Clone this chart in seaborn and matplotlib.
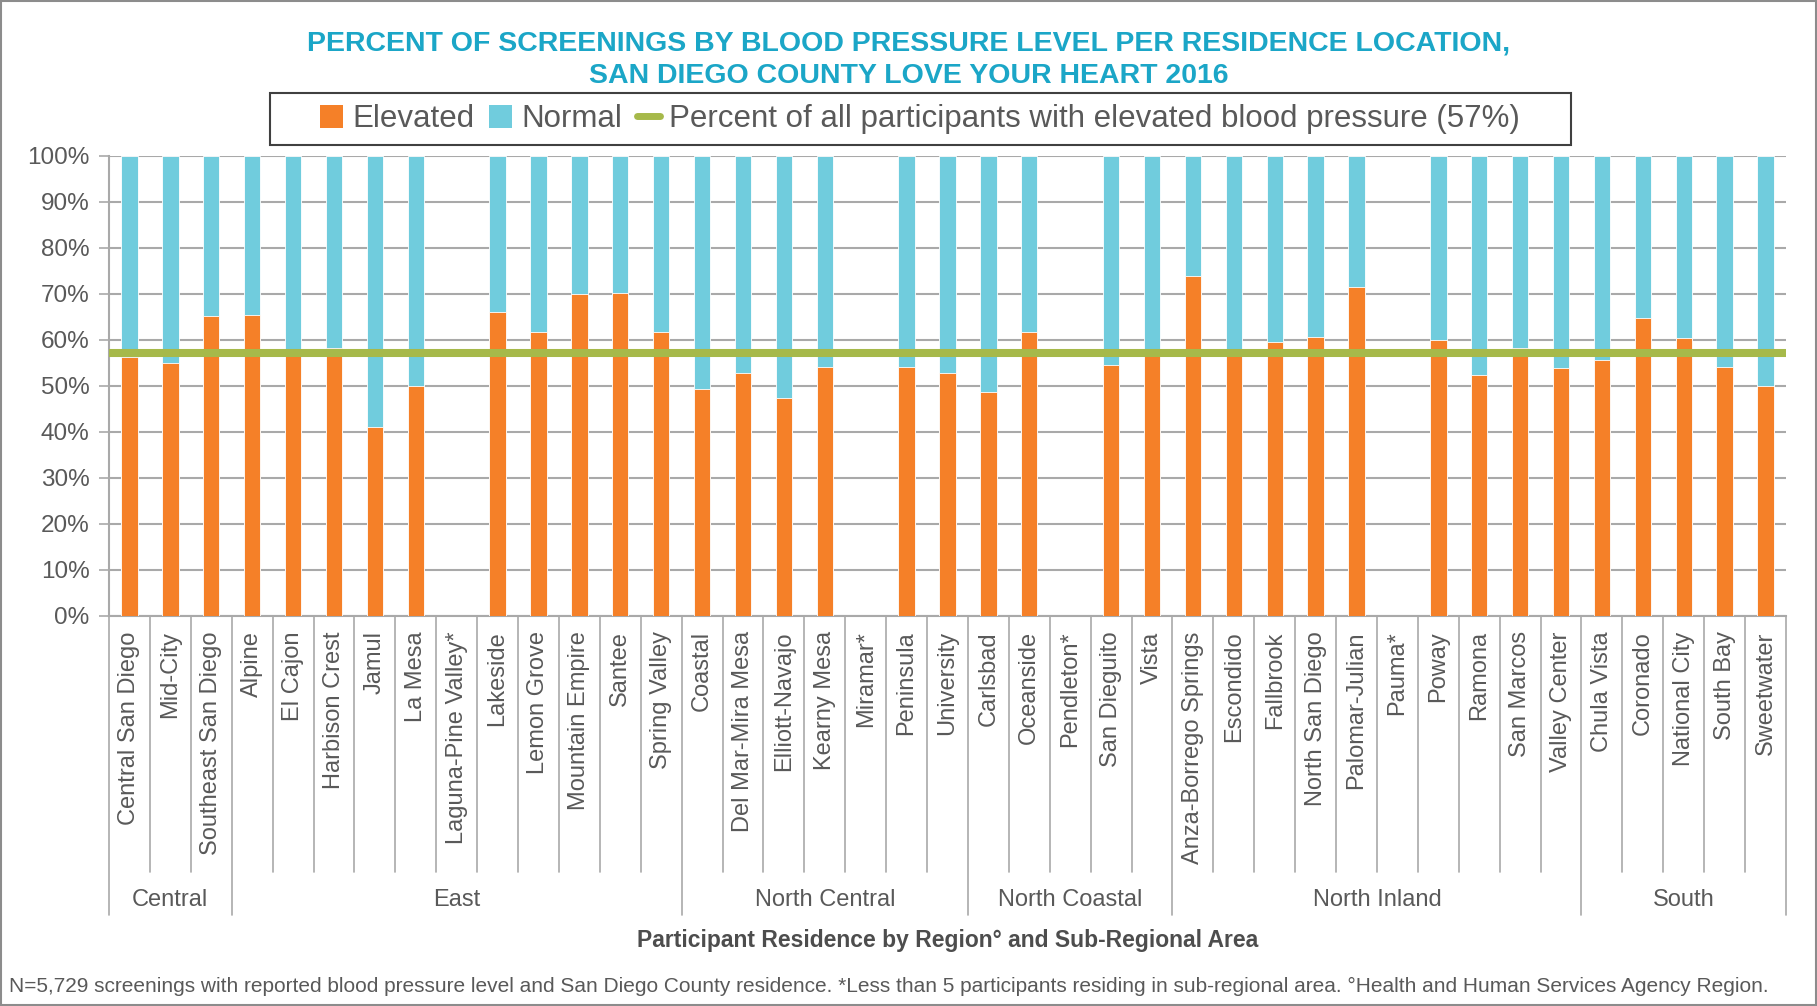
import numpy as np
import pandas as pd
import matplotlib
matplotlib.use("Agg")
import matplotlib.pyplot as plt
import matplotlib.transforms as mtransforms
from matplotlib.patches import Patch, Rectangle
from matplotlib.lines import Line2D
from matplotlib.ticker import PercentFormatter
import seaborn as sns

# --- dados ---
regions = ["Central", "East", "North Central", "North Coastal", "North Inland", "South"]
region_sizes = [3, 11, 7, 5, 10, 5]

areas = [
    "Central San Diego", "Mid-City", "Southeast San Diego",
    "Alpine", "El Cajon", "Harbison Crest", "Jamul", "La Mesa", "Laguna-Pine Valley*",
    "Lakeside", "Lemon Grove", "Mountain Empire", "Santee", "Spring Valley",
    "Coastal", "Del Mar-Mira Mesa", "Elliott-Navajo", "Kearny Mesa", "Miramar*",
    "Peninsula", "University",
    "Carlsbad", "Oceanside", "Pendleton*", "San Dieguito", "Vista",
    "Anza-Borrego Springs", "Escondido", "Fallbrook", "North San Diego", "Palomar-Julian",
    "Pauma*", "Poway", "Ramona", "San Marcos", "Valley Center",
    "Chula Vista", "Coronado", "National City", "South Bay", "Sweetwater",
]

elevated = [
    56.3, 55.0, 65.2,
    65.5, 56.5, 58.3, 41.1, 50.1, np.nan,
    66.0, 61.7, 69.9, 70.2, 61.7,
    49.3, 52.9, 47.5, 54.2, np.nan,
    54.2, 52.9,
    48.8, 61.7, np.nan, 54.5, 56.8,
    74.0, 58.1, 59.6, 60.6, 71.5,
    np.nan, 60.1, 52.3, 58.3, 54.0,
    55.7, 64.8, 60.4, 54.2, 50.0,
]

normal = [
    43.7, 45.0, 34.8,
    34.5, 43.5, 41.7, 58.9, 49.9, np.nan,
    34.0, 38.3, 30.1, 29.8, 38.3,
    50.7, 47.1, 52.5, 45.8, np.nan,
    45.8, 47.1,
    51.2, 38.3, np.nan, 45.5, 43.2,
    26.0, 41.9, 40.4, 39.4, 28.5,
    np.nan, 39.9, 47.7, 41.7, 46.0,
    44.3, 35.2, 39.6, 45.8, 50.0,
]

overall_elevated = 57.2

# --- cores ---
ORANGE = "#F58028"
CYAN = "#70CCDD"
GREEN = "#A6B94A"
TITLE_COLOR = "#1BA6C7"
TEXT = "#595959"
GRID = "#A9A9A9"

df = pd.DataFrame({"area": areas, "elevated": elevated, "normal": normal})
df["total"] = df["elevated"] + df["normal"]

sns.set_theme(style="white")
plt.rcParams["font.family"] = ["Liberation Sans", "DejaVu Sans"]

fig = plt.figure(figsize=(18.17, 10.06), dpi=100)
ax = fig.add_axes([109 / 1817, 1 - 616 / 1006, (1786 - 109) / 1817, 460 / 1006])

ax.yaxis.grid(True, color=GRID, linewidth=1.5, zorder=0)
ax.set_axisbelow(True)

# barras empilhadas: normal (total) atrás, elevado na frente
sns.barplot(data=df, x="area", y="total", order=areas, color=CYAN, width=0.4,
            errorbar=None, saturation=1, edgecolor="white", linewidth=0.6, ax=ax, zorder=2)
sns.barplot(data=df, x="area", y="elevated", order=areas, color=ORANGE, width=0.4,
            errorbar=None, saturation=1, edgecolor="white", linewidth=0.6, ax=ax, zorder=3)

ax.axhline(overall_elevated, color=GREEN, linewidth=5.8, zorder=4)

ax.set_xlim(-0.5, len(areas) - 0.5)
ax.set_ylim(0, 100)
ax.set_yticks(range(0, 101, 10))
ax.yaxis.set_major_formatter(PercentFormatter(decimals=0))
ax.tick_params(axis="y", labelsize=17.5, labelcolor=TEXT, length=7, width=1.2,
               color=GRID, direction="out", left=True, pad=7)
ax.set_xticks(range(len(areas)))
ax.set_xticklabels(areas, rotation=90, fontsize=17, color=TEXT, va="top")
ax.tick_params(axis="x", length=0, pad=11)
ax.set_xlabel("")
ax.set_ylabel("")

for side in ["top", "right"]:
    ax.spines[side].set_visible(False)
for side in ["left", "bottom"]:
    ax.spines[side].set_color(GRID)
    ax.spines[side].set_linewidth(1.5)

# eixo x de dois níveis: separadores e nomes das regiões
trans = mtransforms.blended_transform_factory(ax.transData, ax.transAxes)
bounds = np.cumsum([0] + region_sizes)
for i in range(len(areas) + 1):
    depth = -0.65 if i in bounds else -0.556
    ax.plot([i - 0.5, i - 0.5], [0, depth], transform=trans, color=GRID,
            linewidth=1.2, clip_on=False)
for name, start, end in zip(regions, bounds[:-1], bounds[1:]):
    ax.text((start + end - 1) / 2, -0.617, name, transform=trans, ha="center",
            va="center", fontsize=17, color=TEXT)

ax.text(0.5, -0.7065, "Participant Residence by Region° and Sub-Regional Area",
        transform=ax.transAxes, ha="center", va="center", fontsize=16.5,
        fontweight="bold", color="#4D4D4D")

# título
fig.text(0.5, 1 - 60 / 1006,
         "PERCENT OF SCREENINGS BY BLOOD PRESSURE LEVEL PER RESIDENCE LOCATION,\n"
         "SAN DIEGO COUNTY LOVE YOUR HEART 2016",
         ha="center", va="center", fontsize=20.5, fontweight="bold",
         color=TITLE_COLOR, linespacing=1.32)

# legenda com moldura manual
handles = [
    Patch(facecolor=ORANGE, edgecolor="none"),
    Patch(facecolor=CYAN, edgecolor="none"),
    Line2D([0], [0], color=GREEN, linewidth=5),
]
labels = ["Elevated", "Normal",
          f"Percent of all participants with elevated blood pressure ({overall_elevated:.0f}%)"]
leg = fig.legend(handles, labels, loc="center", bbox_to_anchor=(920 / 1817, 1 - 119 / 1006),
                 ncol=3, frameon=False, fontsize=22.5, handlelength=0.75, handleheight=0.75,
                 handletextpad=0.3, columnspacing=0.45)
for t in leg.get_texts():
    t.set_color(TEXT)
fig.patches.append(Rectangle((270 / 1817, 1 - 145 / 1006), 1301 / 1817, 52 / 1006,
                             transform=fig.transFigure, fill=False,
                             edgecolor="#404040", linewidth=1.5))

# nota de rodapé
fig.text(9 / 1817, 1 - 986 / 1006,
         "N=5,729 screenings with reported blood pressure level and San Diego County residence. "
         "*Less than 5 participants residing in sub-regional area. "
         "°Health and Human Services Agency Region.",
         ha="left", va="center", fontsize=15, color=TEXT)

# borda da figura
fig.patches.append(Rectangle((0.0008, 0.0012), 0.9984, 0.9976, transform=fig.transFigure,
                             fill=False, edgecolor="#8C8C8C", linewidth=1.5))

fig.savefig("out.png", dpi=100)
